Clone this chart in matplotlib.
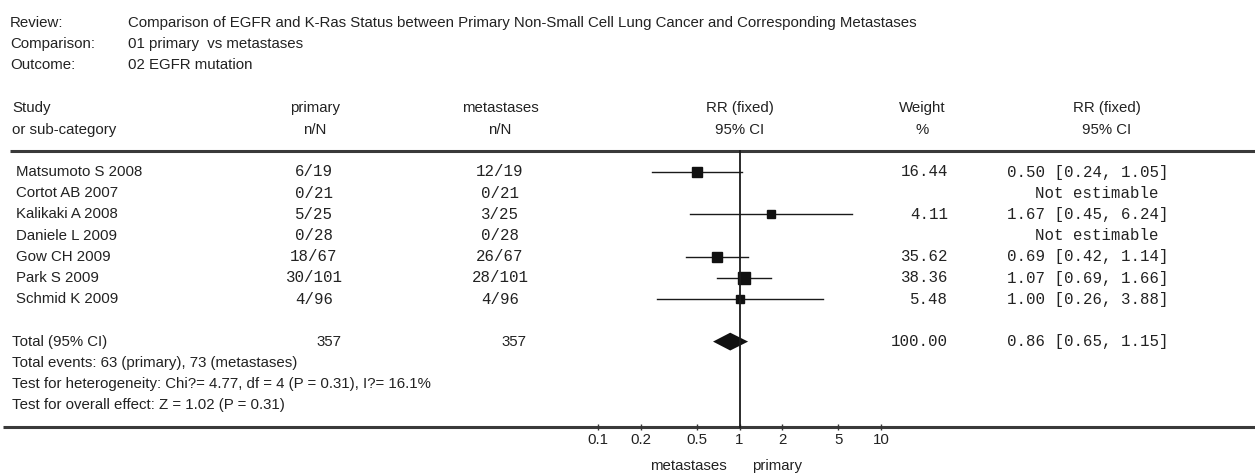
import matplotlib
matplotlib.use("Agg")
import matplotlib.pyplot as plt
import numpy as np

# header info
review = "Comparison of EGFR and K-Ras Status between Primary Non-Small Cell Lung Cancer and Corresponding Metastases"
comparison = "01 primary  vs metastases"
outcome = "02 EGFR mutation"

studies = ["Matsumoto S 2008", "Cortot AB 2007", "Kalikaki A 2008", "Daniele L 2009",
           "Gow CH 2009", "Park S 2009", "Schmid K 2009"]
primary_events = [6, 0, 5, 0, 18, 30, 4]
primary_total = [19, 21, 25, 28, 67, 101, 96]
meta_events = [12, 0, 3, 0, 26, 28, 4]
meta_total = [19, 21, 25, 28, 67, 101, 96]
rr = [0.50, None, 1.67, None, 0.69, 1.07, 1.00]
ci_low = [0.24, None, 0.45, None, 0.42, 0.69, 0.26]
ci_high = [1.05, None, 6.24, None, 1.14, 1.66, 3.88]
weights = [16.44, None, 4.11, None, 35.62, 38.36, 5.48]

total_rr = 0.86
total_low = 0.65
total_high = 1.15
total_weight = 100.00

footer_lines = [
    "Total events: 63 (primary), 73 (metastases)",
    "Test for heterogeneity: Chi?= 4.77, df = 4 (P = 0.31), I?= 16.1%",
    "Test for overall effect: Z = 1.02 (P = 0.31)",
]

xticks = [0.1, 0.2, 0.5, 1, 2, 5, 10]
xtick_labels = ["0.1", "0.2", "0.5", "1", "2", "5", "10"]

SANS = "Liberation Sans"
MONO = "Liberation Mono"
TXT = "#222222"
FS = 10.8
FM = 11.3

W, H = 1255, 475
fig = plt.figure(figsize=(W / 100, H / 100), dpi=100)

# row grid: y_px = Y0 + DY * row
Y0, DY = 172.0, 21.2
def row_of(px):
    return (px - Y0) / DY

ax = fig.add_axes([0, 0, 1, 1])
ax.set_xlim(0, W)
ax.set_ylim(row_of(H), row_of(0))
ax.axis("off")

# forest axes, log scale from 0.1 to 10
x_left, x_right = 598, 881
top_px, bot_px = 151, 427
fax = fig.add_axes([x_left / W, (H - bot_px) / H, (x_right - x_left) / W, (bot_px - top_px) / H])
fax.set_xscale("log")
fax.set_xlim(0.1, 10)
fax.set_ylim(row_of(bot_px), row_of(top_px))
fax.patch.set_alpha(0)
for s in fax.spines.values():
    s.set_visible(False)
fax.set_yticks([])
fax.set_xticks(xticks)
fax.set_xticklabels(xtick_labels, fontfamily=SANS, fontsize=FS, color=TXT)
fax.minorticks_off()
fax.tick_params(axis="x", direction="inout", length=5, width=1, color="#333333", pad=2)

# header block
for i, (lab, val) in enumerate([("Review:", review), ("Comparison:", comparison), ("Outcome:", outcome)]):
    r = -7.05 + i
    ax.text(10, r, lab, fontfamily=SANS, fontsize=FS, color=TXT, va="center")
    ax.text(128, r, val, fontfamily=SANS, fontsize=FS, color=TXT, va="center")

# column headers
ax.text(12, -3, "Study", fontfamily=SANS, fontsize=FS, color=TXT, va="center")
ax.text(12, -2, "or sub-category", fontfamily=SANS, fontsize=FS, color=TXT, va="center")
for xc, t1, t2 in [(315, "primary", "n/N"), (500, "metastases", "n/N"),
                   (740, "RR (fixed)", "95% CI"), (922, "Weight", "%"),
                   (1107, "RR (fixed)", "95% CI")]:
    ax.text(xc, -3, t1, fontfamily=SANS, fontsize=FS, color=TXT, va="center", ha="center")
    ax.text(xc, -2, t2, fontfamily=SANS, fontsize=FS, color=TXT, va="center", ha="center")

# horizontal rules
ax.plot([10, W], [row_of(top_px), row_of(top_px)], color="#3a3a3a", lw=2.2, solid_capstyle="butt")
ax.plot([3, W], [row_of(bot_px), row_of(bot_px)], color="#3a3a3a", lw=2.2, solid_capstyle="butt")

# study rows
for i, name in enumerate(studies):
    ax.text(16, i, name, fontfamily=SANS, fontsize=FS, color=TXT, va="center")
    ax.text(314, i, f"{primary_events[i]}/{primary_total[i]}", fontfamily=MONO, fontsize=FM,
            color=TXT, va="center", ha="center")
    ax.text(500, i, f"{meta_events[i]}/{meta_total[i]}", fontfamily=MONO, fontsize=FM,
            color=TXT, va="center", ha="center")
    if rr[i] is None:
        ax.text(1035, i, "Not estimable", fontfamily=MONO, fontsize=FM, color=TXT, va="center")
        continue
    ax.text(948, i, f"{weights[i]:.2f}", fontfamily=MONO, fontsize=FM, color=TXT, va="center", ha="right")
    ax.text(1007, i, f"{rr[i]:.2f} [{ci_low[i]:.2f}, {ci_high[i]:.2f}]", fontfamily=MONO,
            fontsize=FM, color=TXT, va="center")
    fax.plot([ci_low[i], ci_high[i]], [i, i], color="#1a1a1a", lw=1.0)
    side_px = 5 + 1.0 * np.sqrt(weights[i])
    fax.plot([rr[i]], [i], marker="s", ms=side_px * 0.72, color="#111111", mec="#111111", ls="none")

# total row
tr = 8
ax.text(12, tr, "Total (95% CI)", fontfamily=SANS, fontsize=FS, color=TXT, va="center")
ax.text(329, tr, str(sum(primary_total)), fontfamily=SANS, fontsize=FS, color=TXT, va="center", ha="center")
ax.text(514, tr, str(sum(meta_total)), fontfamily=SANS, fontsize=FS, color=TXT, va="center", ha="center")
ax.text(948, tr, f"{total_weight:.2f}", fontfamily=MONO, fontsize=FM, color=TXT, va="center", ha="right")
ax.text(1007, tr, f"{total_rr:.2f} [{total_low:.2f}, {total_high:.2f}]", fontfamily=MONO,
        fontsize=FM, color=TXT, va="center")
dh = 0.42
fax.fill([total_low, total_rr, total_high, total_rr], [tr, tr - dh, tr, tr + dh],
         color="#111111", lw=0)

for k, line in enumerate(footer_lines):
    ax.text(12, tr + 1 + k, line, fontfamily=SANS, fontsize=FS, color=TXT, va="center")

# line of no effect
fax.plot([1, 1], [row_of(top_px), row_of(bot_px)], color="#1a1a1a", lw=1.3, clip_on=False)

# direction labels
ax.text(688, row_of(466), "metastases", fontfamily=SANS, fontsize=FS, color=TXT, va="center", ha="center")
ax.text(777, row_of(466), "primary", fontfamily=SANS, fontsize=FS, color=TXT, va="center", ha="center")

fig.savefig("out.png", dpi=100, facecolor="white")
